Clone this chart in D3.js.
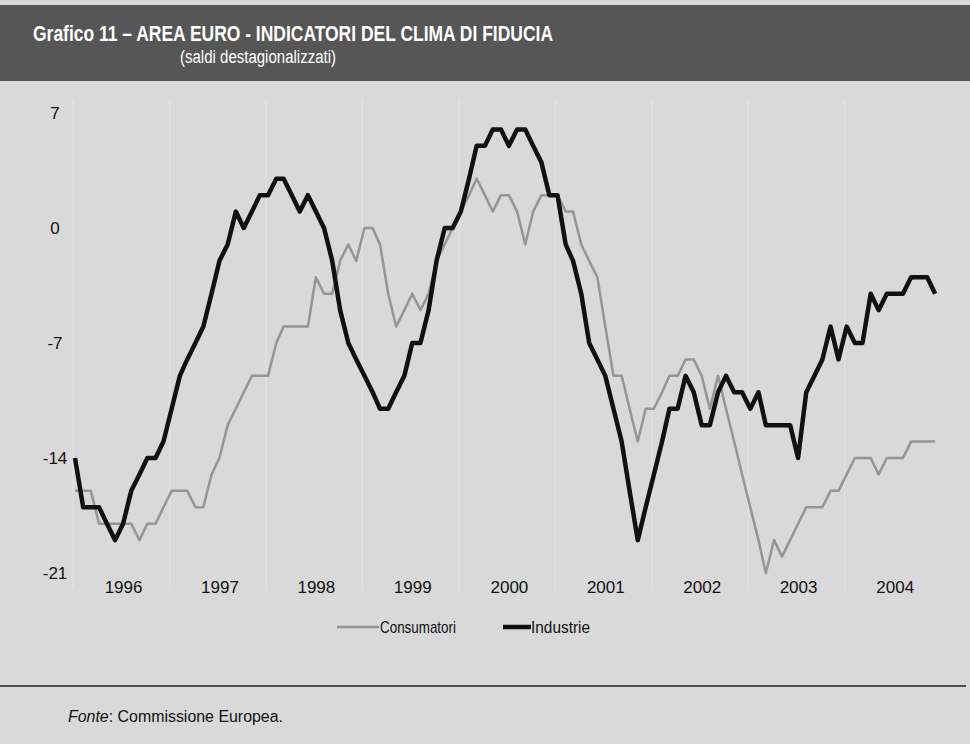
<!DOCTYPE html>
<html>
<head>
<meta charset="utf-8">
<script src="https://cdn.jsdelivr.net/npm/d3@7"></script>
<style>
  body { margin: 0; background: #d9d9d9; }
  svg { display: block; font-family: "Liberation Sans", Arial, sans-serif; }
</style>
</head>
<body>
<svg id="chart" width="970" height="744"></svg>
<script>
// saldi mensili, gen 1996 - dic 2004
var consumatori = [
  -16,-16,-16,-18,-18,-18,-18,-18,-19,-18,-18,-17,
  -16,-16,-16,-17,-17,-15,-14,-12,-11,-10,-9,-9,
  -9,-7,-6,-6,-6,-6,-3,-4,-4,-2,-1,-2,
  0,0,-1,-4,-6,-5,-4,-5,-4,-2,-1,0,
  1,2,3,2,1,2,2,1,-1,1,2,2,
  2,1,1,-1,-2,-3,-6,-9,-9,-11,-13,-11,
  -11,-10,-9,-9,-8,-8,-9,-11,-9,-11,-13,-15,
  -17,-19,-21,-19,-20,-19,-18,-17,-17,-17,-16,-16,
  -15,-14,-14,-14,-15,-14,-14,-14,-13,-13,-13,-13
];
var industrie = [
  -14,-17,-17,-17,-18,-19,-18,-16,-15,-14,-14,-13,
  -11,-9,-8,-7,-6,-4,-2,-1,1,0,1,2,
  2,3,3,2,1,2,1,0,-2,-5,-7,-8,
  -9,-10,-11,-11,-10,-9,-7,-7,-5,-2,0,0,
  1,3,5,5,6,6,5,6,6,5,4,2,
  2,-1,-2,-4,-7,-8,-9,-11,-13,-16,-19,-17,
  -15,-13,-11,-11,-9,-10,-12,-12,-10,-9,-10,-10,
  -11,-10,-12,-12,-12,-12,-14,-10,-9,-8,-6,-8,
  -6,-7,-7,-4,-5,-4,-4,-4,-3,-3,-3,-4
];
var anni = [1996, 1997, 1998, 1999, 2000, 2001, 2002, 2003, 2004];
var yTicks = [7, 0, -7, -14, -21];

var svg = d3.select("#chart");
var mesi = d3.timeMonth.range(new Date(1996, 0, 1), new Date(1996 + anni.length, 0, 1));

var xScale = d3.scaleTime()
  .domain([new Date(1996, 0, 1), new Date(2005, 0, 1)])
  .range([75, 75 + 108 * 8.04]);
var yScale = d3.scaleLinear().domain([-21, 7]).range([573, 113]);

// fondo e testata
svg.append("rect").attr("width", 970).attr("height", 744).attr("fill", "#d9d9d9");
svg.append("rect").attr("x", 0).attr("y", 5).attr("width", 970).attr("height", 76).attr("fill", "#565656");

svg.append("text")
  .attr("x", 33).attr("y", 41)
  .attr("textLength", 520).attr("lengthAdjust", "spacingAndGlyphs")
  .style("font-size", "22px").style("font-weight", "bold").style("fill", "#fff")
  .text("Grafico 11 \u2013 AREA EURO - INDICATORI DEL CLIMA DI FIDUCIA");
svg.append("text")
  .attr("x", 180).attr("y", 63)
  .attr("textLength", 156).attr("lengthAdjust", "spacingAndGlyphs")
  .style("font-size", "18px").style("fill", "#fff")
  .text("(saldi destagionalizzati)");

// linee verticali chiare a inizio anno
svg.append("g").selectAll("line").data(anni).enter()
  .append("line")
  .attr("x1", function (d) { return xScale(new Date(d, 0, 1)) - 2; })
  .attr("x2", function (d) { return xScale(new Date(d, 0, 1)) - 2; })
  .attr("y1", 100).attr("y2", 590)
  .attr("stroke", "#f0f0f0").attr("stroke-width", 1.2).attr("opacity", 0.45);

// assi (etichette centrate, trattino normale)
var yAxis = svg.append("g")
  .attr("transform", "translate(55,0)")
  .call(d3.axisLeft(yScale).tickValues(yTicks).tickFormat(function (d) { return String(d); })
    .tickSize(0).tickPadding(0));
yAxis.select(".domain").remove();
yAxis.selectAll("text")
  .attr("text-anchor", "middle").attr("dy", "0.35em")
  .style("font-size", "17px").style("fill", "#111").style("font-family", "inherit");

var xAxis = svg.append("g")
  .attr("transform", "translate(0,581)")
  .call(d3.axisBottom(xScale)
    .tickValues(anni.map(function (a) { return new Date(a, 6, 1); }))
    .tickFormat(d3.timeFormat("%Y")).tickSize(0).tickPadding(0));
xAxis.select(".domain").remove();
xAxis.selectAll("text")
  .attr("dy", "0.71em")
  .style("font-size", "17px").style("fill", "#111").style("font-family", "inherit");

// serie
var line = d3.line()
  .x(function (d, i) { return xScale(mesi[i]); })
  .y(function (d) { return yScale(d); });

svg.append("path").datum(consumatori)
  .attr("d", line).attr("fill", "none")
  .attr("stroke", "#959595").attr("stroke-width", 2.5).attr("stroke-linejoin", "round");
svg.append("path").datum(industrie)
  .attr("d", line).attr("fill", "none")
  .attr("stroke", "#111").attr("stroke-width", 4.5).attr("stroke-linejoin", "round");

// legenda
var leg = svg.append("g");
leg.append("line").attr("x1", 337).attr("x2", 379).attr("y1", 627).attr("y2", 627)
  .attr("stroke", "#959595").attr("stroke-width", 2.5);
leg.append("text").attr("x", 380).attr("y", 633)
  .attr("textLength", 76).attr("lengthAdjust", "spacingAndGlyphs")
  .style("font-size", "17px").style("fill", "#111").text("Consumatori");
leg.append("line").attr("x1", 503).attr("x2", 531).attr("y1", 627).attr("y2", 627)
  .attr("stroke", "#111").attr("stroke-width", 4.5);
leg.append("text").attr("x", 531).attr("y", 633)
  .attr("textLength", 59).attr("lengthAdjust", "spacingAndGlyphs")
  .style("font-size", "17px").style("fill", "#111").text("Industrie");

// riga e fonte
svg.append("line").attr("x1", 0).attr("x2", 966).attr("y1", 686).attr("y2", 686)
  .attr("stroke", "#222").attr("stroke-width", 1.5);
var fonte = svg.append("text").attr("x", 68).attr("y", 722)
  .attr("textLength", 215).attr("lengthAdjust", "spacingAndGlyphs")
  .style("font-size", "16px").style("fill", "#111");
fonte.append("tspan").style("font-style", "italic").text("Fonte");
fonte.append("tspan").text(": Commissione Europea.");
</script>
</body>
</html>
